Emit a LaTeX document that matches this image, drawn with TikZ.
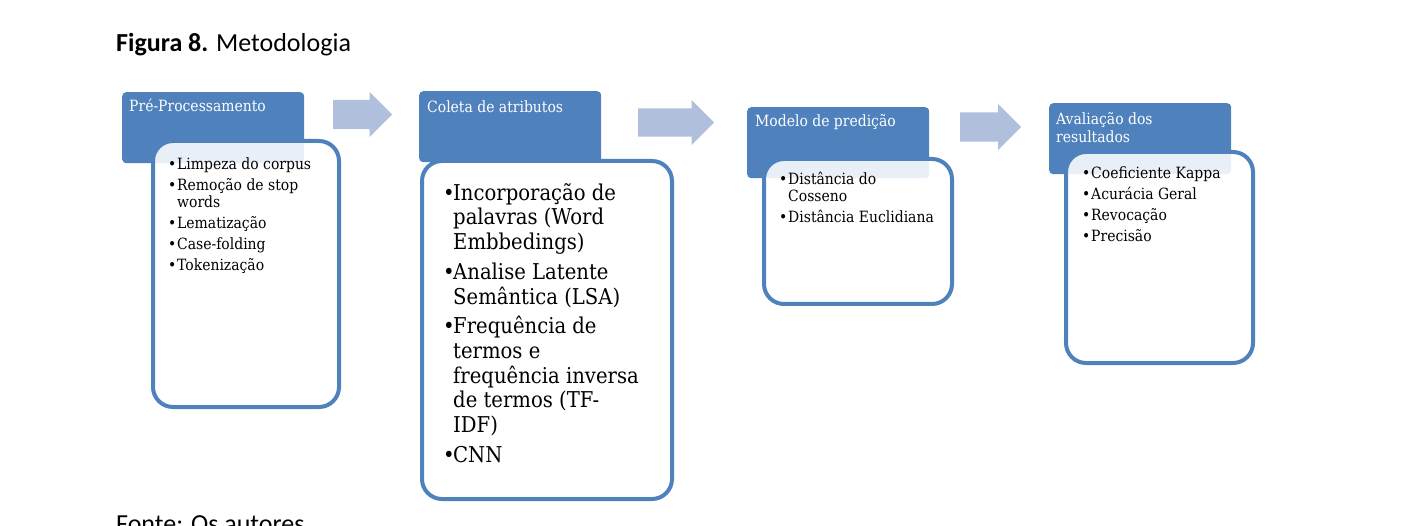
\documentclass[tikz,border=0pt]{standalone}
\usepackage{fontspec}
\setmainfont{Carlito}
\newfontfamily\cambr[FakeStretch=0.9]{DejaVu Serif}
\usepackage{xcolor}
\usepackage{tikz}
\usetikzlibrary{shapes.arrows}

\definecolor{hblue}{HTML}{4F81BD}
\definecolor{ablue}{HTML}{B0C0DC}
\newcommand\bul[2][9pt]{\makebox[#1][l]{\textbullet}#2}
\newcommand\cont[2][9pt]{\hspace*{#1}#2}

\begin{document}
\begin{tikzpicture}[x=1pt,y=-1pt,
	head/.style={fill=hblue,rounded corners=4pt,minimum width=182pt,minimum height=71pt,anchor=north west,inner sep=0pt},
	card/.style={draw=hblue,line width=4pt,fill=white,fill opacity=0.88,rounded corners=20pt,anchor=north west,inner sep=0pt},
	htext/.style={text=white,font=\cambr\fontsize{15.5}{18}\selectfont,anchor=base west,inner sep=0pt,align=left},
	items/.style={font=\cambr\fontsize{15.5}{17.5}\selectfont,anchor=north west,inner sep=0pt,align=left},
	bigitems/.style={font=\cambr\fontsize{21.8}{24.7}\selectfont,anchor=north west,inner sep=0pt,align=left},
	flow/.style={single arrow,fill=ablue,inner xsep=0pt,single arrow head extend=8pt,anchor=tail}]
				\clip (0,0) rectangle (1402,526);
				\fill[white] (0,0) rectangle (1402,526);
				\node[anchor=base west,inner sep=0pt,font=\fontsize{26}{30}\selectfont] (title) at (116,52) {\textbf{Figura 8.} Metodologia};
				\node[anchor=base west,inner sep=0pt,font=\fontsize{26}{30}\selectfont] (fonte) at (116,532) {Fonte: Os autores};
				\node[head] (h1) at (122,92) {};
				\node[head] (h2) at (419,91) {};
				\node[head] (h3) at (747,107) {};
				\node[head] (h4) at (1049,103) {};
				\node[htext] (t1) at (129,112) {Pré-Processamento};
				\node[htext] (t2) at (427,113) {Coleta de atributos};
				\node[htext] (t3) at (755,127) {Modelo de predição};
				\node[htext,anchor=north west] (t4) at (1056,108.5) {\rule{0pt}{15.5pt}Avaliação dos\\resultados};
				\node[card,minimum width=186pt,minimum height=266pt] (c1) at (151,139) {};
				\node[card,minimum width=250pt,minimum height=338pt] (c2) at (420,159) {};
				\node[card,minimum width=188pt,minimum height=145pt] (c3) at (762,157) {};
				\node[card,minimum width=187pt,minimum height=211pt] (c4) at (1064,150) {};
				\node[items] (l1) at (168,153.5) {\rule{0pt}{15.5pt}\bul{Limpeza do corpus}\\[3.5pt]\bul{Remoção de stop}\\\cont{words}\\[3.5pt]\bul{Lematização}\\[3.5pt]\bul{Case-folding}\\[3.5pt]\bul{Tokenização}};
				\node[bigitems] (l2) at (443,178) {\rule{0pt}{22pt}\bul[10pt]{Incorporação de}\\\cont[10pt]{palavras (Word}\\\cont[10pt]{Embbedings)}\\[5pt]\bul[10pt]{Analise Latente}\\\cont[10pt]{Semântica (LSA)}\\[5pt]\bul[10pt]{Frequência de}\\\cont[10pt]{termos e}\\\cont[10pt]{frequência inversa}\\\cont[10pt]{de termos (TF-}\\\cont[10pt]{IDF)}\\[5pt]\bul[10pt]{CNN}};
				\node[items] (l3) at (779,168.5) {\rule{0pt}{15.5pt}\bul{Distância do}\\\cont{Cosseno}\\[3.5pt]\bul{Distância Euclidiana}};
				\node[items] (l4) at (1082,162.5) {\rule{0pt}{15.5pt}\bul{Coeficiente Kappa}\\[3.5pt]\bul{Acurácia Geral}\\[3.5pt]\bul{Revocação}\\[3.5pt]\bul{Precisão}};
				\node[flow,minimum height=59pt,inner ysep=14.5pt] (a1) at (333,114.5) {};
				\node[flow,minimum height=76pt,inner ysep=14pt,single arrow head extend=8.5pt] (a2) at (638,122.5) {};
				\node[flow,minimum height=61pt,inner ysep=14.5pt,single arrow head extend=8.5pt] (a3) at (960,127) {};
\end{tikzpicture}
\end{document}
